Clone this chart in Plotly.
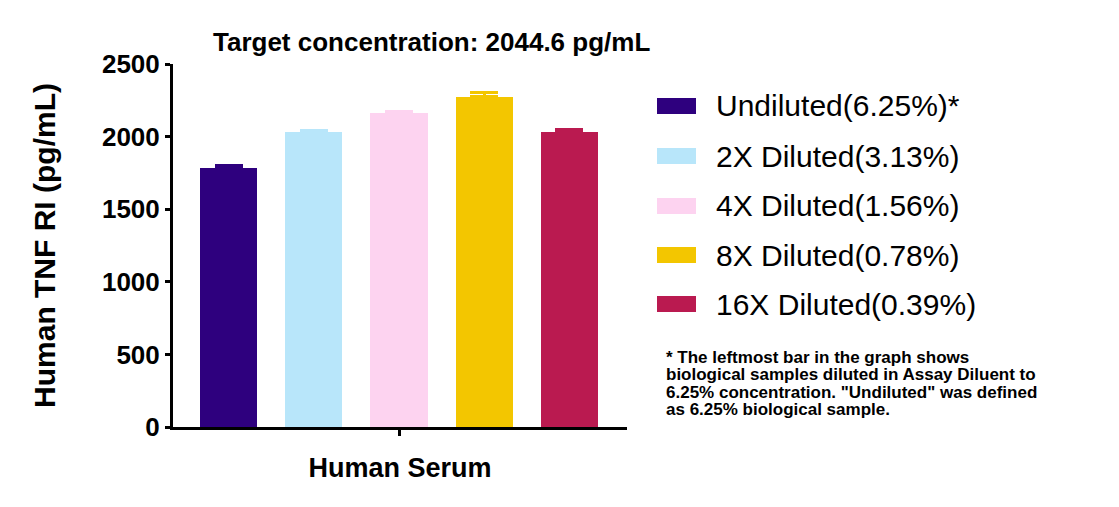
import plotly.graph_objects as go

categories = ["Undiluted(6.25%)*", "2X Diluted(3.13%)", "4X Diluted(1.56%)",
              "8X Diluted(0.78%)", "16X Diluted(0.39%)"]
values = [1784, 2032, 2165, 2275, 2032]
errors = [20, 13, 11, 32, 20]
colors = ["#2E007E", "#B8E6FA", "#FDD3F0", "#F3C600", "#BA1A50"]
y_ticks = [0, 500, 1000, 1500, 2000, 2500]
x_label = "Human Serum"
y_label = "Human TNF RI (pg/mL)"
title_text = "Target concentration: 2044.6 pg/mL"
footnote = ["* The leftmost bar in the graph shows",
            "biological samples diluted in Assay Diluent to",
            "6.25% concentration. \"Undiluted\" was defined",
            "as 6.25% biological sample."]

FONT = "Liberation Sans, Arial, sans-serif"
W, H = 1119, 507
OFF = 8  # page offset
L, R, T, B = 173, 627, 64, 427

fig = go.Figure()
for i, (name, v, e, c) in enumerate(zip(categories, values, errors, colors)):
    fig.add_trace(go.Bar(
        x=[i], y=[v], name=name, marker=dict(color=c, line=dict(width=0)),
        width=0.67, showlegend=False,
        error_y=dict(type="data", symmetric=False, array=[e], arrayminus=[0],
                     color=c, thickness=3, width=14),
    ))

def px_to_paper_x(px):
    return (px - L) / (R - L)

def py_to_paper_y(py):
    return (B - py) / (B - T)

legend_rows = [106, 156, 206, 255, 304]
shapes = []
annotations = []
for name, c, ry in zip(categories, colors, legend_rows):
    shapes.append(dict(type="rect", xref="paper", yref="paper",
                       x0=px_to_paper_x(657), x1=px_to_paper_x(696),
                       y0=py_to_paper_y(ry + 8), y1=py_to_paper_y(ry - 8),
                       fillcolor=c, line=dict(width=0)))
    annotations.append(dict(xref="paper", yref="paper", x=px_to_paper_x(714),
                            y=py_to_paper_y(ry), text=name, showarrow=False,
                            xanchor="left", yanchor="middle",
                            font=dict(family=FONT, size=30, color="black")))

for j, line in enumerate(footnote):
    annotations.append(dict(xref="paper", yref="paper", x=px_to_paper_x(664),
                            y=py_to_paper_y(357 + j * 17.5), text=line,
                            showarrow=False, xanchor="left", yanchor="middle",
                            font=dict(family=FONT, size=17, color="black", weight="bold")))

annotations.append(dict(xref="paper", yref="paper", x=px_to_paper_x(431),
                        y=py_to_paper_y(42), text=title_text,
                        showarrow=False, xanchor="center", yanchor="middle",
                        font=dict(family=FONT, size=26, color="black", weight="bold")))

fig.update_layout(
    width=W, height=H,
    margin=dict(l=L - OFF, r=W - R + OFF, t=T - OFF, b=H - B + OFF, pad=0),
    plot_bgcolor="white", paper_bgcolor="white",
    shapes=shapes, annotations=annotations,
    bargap=0,
    xaxis=dict(range=[-0.653, 4.676], tickvals=[2], ticktext=[""],
               showline=True, linecolor="black", linewidth=3,
               ticks="outside", ticklen=6, tickwidth=3, tickcolor="black",
               showgrid=False, zeroline=False,
               title=dict(text=x_label, standoff=21,
                          font=dict(family=FONT, size=27, color="black", weight="bold"))),
    yaxis=dict(range=[0, 2500], tickvals=y_ticks,
               showline=True, linecolor="black", linewidth=3,
               ticks="outside", ticklen=5, tickwidth=3, tickcolor="black",
               showgrid=False, zeroline=False,
               tickfont=dict(family=FONT, size=26, color="black", weight="bold"),
               title=dict(text=y_label, standoff=38,
                          font=dict(family=FONT, size=30, color="black", weight="bold"))),
)

fig.write_html("out.html")
